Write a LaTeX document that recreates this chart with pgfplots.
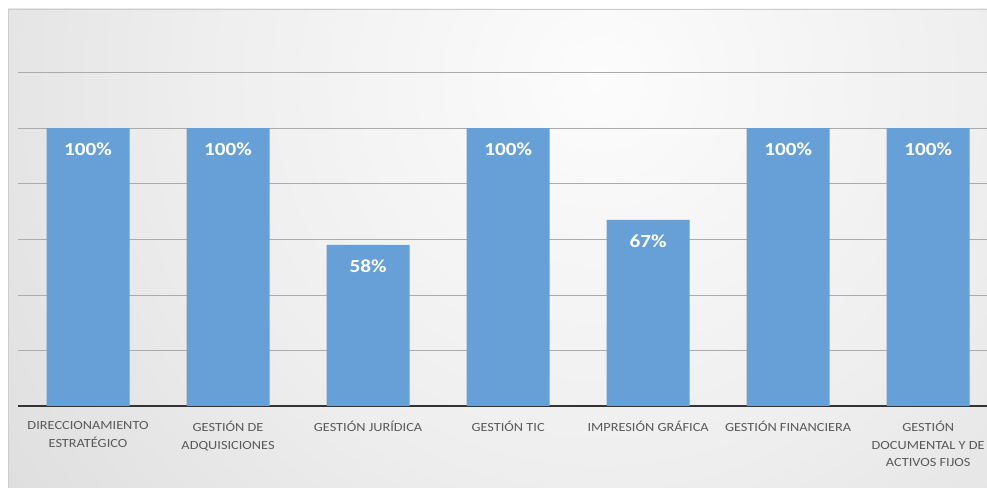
\documentclass[border=0pt]{standalone}
\usepackage{fontspec}
\setmainfont{Carlito}[FakeStretch=1.15]
\usepackage{pgfplots}
\pgfplotsset{compat=1.18}
\definecolor{barblue}{RGB}{103,160,215}
\definecolor{labgray}{RGB}{89,89,89}
\definecolor{bga}{RGB}{252,252,252}
\definecolor{bgb}{RGB}{238,238,238}
\definecolor{bgc}{RGB}{219,219,219}
\definecolor{bgd}{RGB}{203,203,203}
\definecolor{bge}{RGB}{194,194,194}
\pgfdeclareradialshading{bgshade}{\pgfpoint{0bp}{0bp}}{color(0bp)=(bga); color(12.5bp)=(bgb); color(25bp)=(bgc); color(37.5bp)=(bgd); color(50bp)=(bge)}
\begin{document}
\begin{tikzpicture}
\begin{scope}
\clip (8bp,0) rectangle (987bp,479bp);
\shade[shading=bgshade] (-200bp,-392bp) rectangle (1400bp,1208bp);
\end{scope}
\draw[gray!40, line width=0.8bp] (8bp,0) -- (8bp,479bp) -- (990bp,479bp);
\begin{axis}[
  at={(18bp,82bp)}, anchor=south west, scale only axis,
  width=969bp, height=389bp,
  xmin=-0.5, xmax=6.42, ymin=0, ymax=140,
  ybar, bar width=83bp,
  axis x line=bottom, axis y line=left,
  x axis line style={-, draw=black!80, line width=1.6bp},
  y axis line style={draw=none},
  major tick length=0,
  ytick={20,40,60,80,100,120}, yticklabels={},
  ymajorgrids, grid style={draw=black!33, line width=0.7bp},
  xtick={0,1,2,3,4,5,6},
  xticklabels={{DIRECCIONAMIENTO\\ESTRATÉGICO},{GESTIÓN DE\\ADQUISICIONES},{GESTIÓN JURÍDICA},{GESTIÓN TIC},{IMPRESIÓN GRÁFICA},{GESTIÓN FINANCIERA},{GESTIÓN\\DOCUMENTAL Y DE\\ACTIVOS FIJOS}},
  xticklabel style={font=\fontsize{12.5}{17.5}\selectfont, text=labgray, align=center, yshift=-12bp},
  /pgf/number format/assume math mode=true,
  nodes near coords={\pgfmathprintnumber{\pgfplotspointmeta}\%},
  nodes near coords align={below},
  every node near coord/.append style={font=\fontsize{18.5}{22}\selectfont\bfseries, text=white, yshift=-11bp},
  clip=false,
]
\addplot[fill=barblue, draw=none] coordinates {(0,100) (1,100) (2,58) (3,100) (4,67) (5,100) (6,100)};
\end{axis}
\pgfresetboundingbox
\path[use as bounding box] (0,0) rectangle (987bp,488bp);
\end{tikzpicture}
\end{document}
